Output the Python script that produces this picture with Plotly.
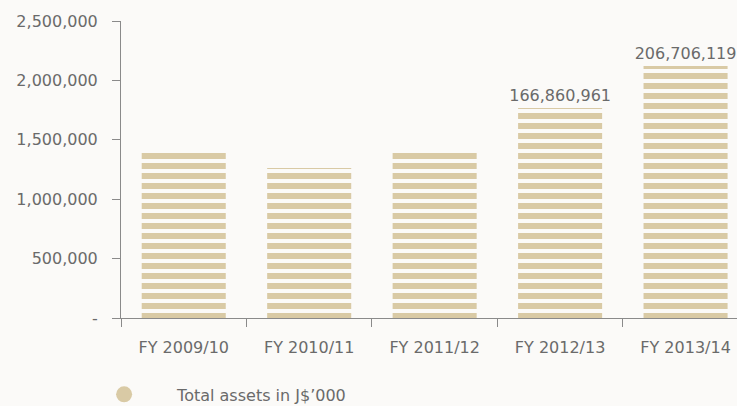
import plotly.graph_objects as go

categories = ["FY 2009/10", "FY 2010/11", "FY 2011/12", "FY 2012/13", "FY 2013/14"]
total_assets = [1389000, 1263000, 1389000, 1768000, 2121000]
bar_labels = ["", "", "", "166,860,961", "206,706,119"]
series_name = "Total assets in J$\u2019000"
y_tickvals = [0, 500000, 1000000, 1500000, 2000000, 2500000]
y_ticktext = ["-", "500,000", "1,000,000", "1,500,000", "2,000,000", "2,500,000"]

BG = "#fbfaf8"
TAN = "#d9caa5"
TXT = "#6a6a6a"
AX = "#8a8a8a"
FONT = "DejaVu Sans"

fig = go.Figure()
fig.add_trace(go.Bar(
    x=categories, y=total_assets, text=bar_labels,
    textposition="outside", cliponaxis=False, constraintext="none",
    textfont=dict(family=FONT, size=16, color=TXT),
    width=0.67, showlegend=False,
    marker=dict(color=BG, line=dict(width=0),
                pattern=dict(shape="-", fgcolor=TAN, bgcolor=BG,
                             size=10, solidity=0.6, fillmode="replace")),
))
fig.add_trace(go.Scatter(
    x=[None], y=[None], mode="markers", name=series_name,
    marker=dict(symbol="circle", size=20, color=TAN),
))

fig.update_layout(
    width=737, height=406,
    margin=dict(l=121, r=0, t=21, b=88, autoexpand=False),
    paper_bgcolor=BG, plot_bgcolor=BG,
    font=dict(family=FONT, size=16, color=TXT),
    legend=dict(orientation="h", x=-0.081, y=-0.2, xanchor="left", yanchor="top",
                itemwidth=96, font=dict(family=FONT, size=16, color=TXT),
                bgcolor="rgba(0,0,0,0)"),
    xaxis=dict(type="category", range=[-0.5, 4.41], showgrid=False,
               showline=True, linecolor=AX, linewidth=1,
               ticks="outside", ticklen=8, tickcolor=AX, tickson="boundaries",
               ticklabelstandoff=15, zeroline=False),
    yaxis=dict(range=[0, 2500000], showgrid=False, zeroline=False,
               showline=True, linecolor=AX, linewidth=1,
               ticks="outside", ticklen=8, tickcolor=AX,
               tickvals=y_tickvals, ticktext=y_ticktext, ticklabelstandoff=11),
)

fig.write_html(
    "out.html",
    config={"displayModeBar": False},
    post_script="document.body.style.margin='0';document.body.style.background='%s';" % BG,
)
